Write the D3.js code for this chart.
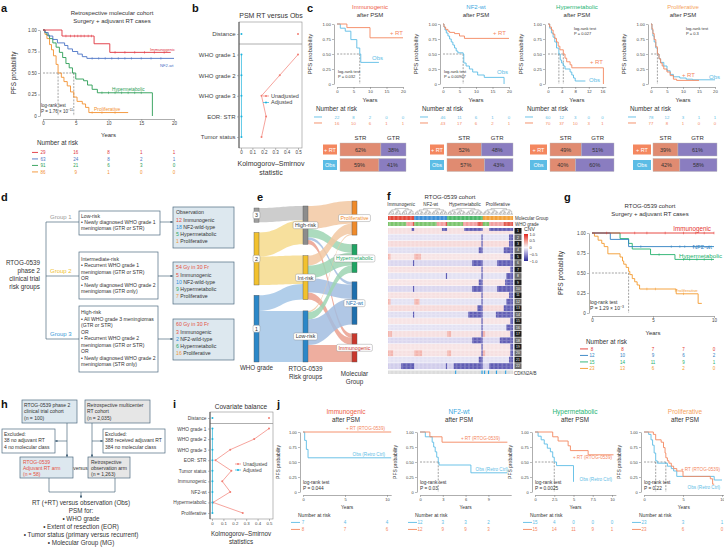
<!DOCTYPE html>
<html>
<head>
<meta charset="utf-8">
<script src="https://cdn.jsdelivr.net/npm/d3@7/dist/d3.min.js"></script>
<style>
  body { margin: 0; background: #fff; }
  svg { font-family: "Liberation Sans", Arial, sans-serif; background: #fff; }
</style>
</head>
<body>
<svg id="fig" width="724" height="554"></svg>
<script>
// ---------------- data ----------------
// a: retrospective molecular cohort (surgery + adjuvant RT)
const aYears = [0, 5, 10, 15, 20];
const aImm = [[0, 1], [2.9, 0.93], [7.8, 0.84], [10.2, 0.74], [19.5, 0.74]];
const aNF2 = [[0, 1], [0.3, 0.97], [0.8, 0.93], [1.5, 0.89], [2.2, 0.85], [3.3, 0.82], [3.8, 0.78], [4.5, 0.75], [5.3, 0.72], [6, 0.69], [6.7, 0.67], [20, 0.67]];
const aHyp = [[0, 1], [0.3, 0.97], [0.6, 0.94], [1, 0.9], [1.5, 0.85], [2, 0.8], [2.5, 0.74], [3, 0.68], [3.5, 0.61], [4, 0.56], [4.5, 0.5], [5, 0.43], [6.2, 0.41], [6.8, 0.36], [7.5, 0.31], [8.3, 0.27], [16.7, 0.27], [16.7, 0]];
const aPro = [[0, 1], [0.3, 0.95], [0.6, 0.9], [1, 0.83], [1.3, 0.77], [1.6, 0.7], [2, 0.6], [2.3, 0.5], [2.8, 0.45], [3.2, 0.4], [3.7, 0.35], [4.2, 0.28], [4.7, 0.22], [5.2, 0.17], [6, 0.14], [6.5, 0.1], [7, 0.04], [13, 0.04]];
const aImmCens = [3.5, 4.2, 4.8, 5.3, 5.8, 6.3, 6.9, 7.4, 11, 12.5, 14, 15.5, 17, 18.5];
const aNF2Cens = [7.5, 8.5, 9.5, 10.5, 11.5, 12.5, 13.5, 15, 16.5, 18];
const aHypCens = [9, 10, 11, 12, 13, 14, 15];
const aProCens = [7.5, 9, 11];
const aMed = [2.3, 4.7];
const aRiskImm = [29, 16, 8, 1, 1];
const aRiskNF2 = [63, 24, 8, 2, 1];
const aRiskHyp = [91, 21, 6, 3, 0];
const aRiskPro = [86, 9, 1, 0, 0];

// b: covariate balance PSM RT versus Obs
const bCov = ['Distance', 'WHO grade 1', 'WHO grade 2', 'WHO grade 3', 'EOR: STR', 'Tumor status'];
const bUnadj = [0.5, 0.5, 0.34, 0.18, 0.22, 0.18];
const bAdj = [0.004, 0.004, 0.004, 0.004, 0.004, 0.004];

// c: KM after PSM per molecular group
const cGroups = ['Immunogenic', 'NF2-wt', 'Hypermetabolic', 'Proliferative'];
const cTicks = [[0, 5, 10, 15, 20], [0, 5, 10, 15, 20], [0, 4, 8, 12, 16], [0, 5, 10, 15, 20]];
const cMax = [20, 20, 17, 20];
const cRT = [
  [[0, 1], [3, 0.94], [10, 0.77], [20, 0.77]],
  [[0, 1], [0.3, 0.95], [0.8, 0.91], [1.5, 0.88], [2, 0.86], [3.5, 0.84], [5, 0.8], [6.5, 0.76], [20, 0.76]],
  [[0, 1], [0.5, 0.95], [1, 0.9], [1.5, 0.83], [2, 0.76], [2.5, 0.7], [3, 0.63], [3.5, 0.57], [4.5, 0.5], [5, 0.43], [5.5, 0.37], [6.5, 0.32], [7, 0.27], [16.3, 0.27], [16.3, 0]],
  [[0, 1], [0.3, 0.92], [0.6, 0.84], [1, 0.74], [1.5, 0.62], [2, 0.5], [2.5, 0.42], [3, 0.35], [3.5, 0.3], [4, 0.25], [5, 0.2], [6, 0.14], [7, 0.08], [8, 0.06], [15, 0.06]]
];
const cObs = [
  [[0, 1], [1, 0.93], [2.5, 0.88], [4.2, 0.74], [6, 0.6], [6.9, 0.5], [7.2, 0.36], [12.7, 0.36]],
  [[0, 1], [0.3, 0.95], [0.6, 0.9], [1, 0.85], [1.5, 0.8], [2, 0.75], [2.5, 0.7], [3, 0.65], [3.5, 0.6], [4, 0.55], [4.5, 0.52], [6.1, 0.5], [6.3, 0.35], [7, 0.3], [8, 0.25], [9, 0.2], [10.5, 0.15], [12.5, 0.11], [18.5, 0.11], [18.5, 0]],
  [[0, 1], [0.5, 0.93], [1, 0.85], [1.5, 0.78], [2, 0.7], [2.5, 0.6], [3.2, 0.5], [3.6, 0.4], [4, 0.35], [4.5, 0.3], [5, 0.25], [6.5, 0.2], [7, 0.15], [7.5, 0.1], [8, 0.05], [11, 0.05]],
  [[0, 1], [0.3, 0.9], [0.6, 0.8], [1, 0.7], [1.5, 0.6], [2, 0.5], [2.5, 0.42], [3, 0.36], [4, 0.3], [5, 0.22], [6, 0.16], [7, 0.12], [9, 0.1], [11, 0.08], [13, 0.07], [20, 0.07]]
];
const cMed = [[6.9], [6.1], [3.2, 4.5], [2]];
const cP = ['P = 0.032', 'P = 0.00907', 'P = 0.027', 'P = 0.3'];
const cRiskObs = [[22, 8, 2, 0, 0], [46, 11, 6, 1, 0], [60, 12, 3, 0, 0], [78, 12, 3, 1, 1]];
const cRiskRT = [[16, 10, 6, 1, 1], [43, 17, 6, 2, 1], [70, 37, 10, 3, 1], [77, 8, 1, 0, 0]];
const cStrRT = [62, 52, 49, 39];
const cStrObs = [59, 57, 40, 42];

// d: RTOG-0539 risk groups and molecular groups
const molNames = ['Immunogenic', 'NF2-wild-type', 'Hypermetabolic', 'Proliferative'];
const obsCounts = [12, 18, 5, 1];
const gy54Counts = [5, 10, 9, 7];
const gy60Counts = [3, 2, 6, 16];

// e: sankey
const whoGrades = ['3', '2', '1'];
const riskGroups = ['High-risk', 'Int-risk', 'Low-risk'];
const molGroups = ['Proliferative', 'Hypermetabolic', 'NF2-wt', 'Immunogenic'];
const whoToRisk = [['3', 'High-risk', 10], ['2', 'High-risk', 17], ['2', 'Int-risk', 20], ['1', 'Int-risk', 11], ['1', 'Low-risk', 36]];

// f: CNV heatmap (fraction of samples with loss / gain per chromosome)
const chromNames = d3.range(1, 23).map(String);
const hmN = [20, 25, 27, 23];
const hmBg = [0.12, -0.1, 0.15, -0.12, 0.1, -0.15, 0.12, -0.1, 0.1, -0.15, 0.12, -0.1, 0.15, -0.12, 0.1, -0.1, 0.12, -0.15, 0.1, 0.12, -0.1, -0.2];
const lossImm = [0.1, 0, 0, 0, 0, 0.05, 0, 0, 0, 0.05, 0, 0, 0, 0.05, 0, 0, 0, 0, 0, 0, 0, 0.5];
const lossNF2 = [0.15, 0, 0, 0, 0, 0, 0, 0.05, 0, 0, 0, 0, 0, 0, 0, 0, 0, 0, 0, 0, 0, 0.05];
const lossHyp = [0.5, 0.05, 0.05, 0.1, 0, 0.3, 0.05, 0.05, 0.1, 0.3, 0.05, 0.05, 0.15, 0.4, 0.05, 0.05, 0.05, 0.3, 0.05, 0.05, 0.1, 0.8];
const lossPro = [0.8, 0.15, 0.15, 0.3, 0.1, 0.5, 0.1, 0.2, 0.25, 0.5, 0.15, 0.2, 0.3, 0.55, 0.1, 0.2, 0.1, 0.45, 0.1, 0.1, 0.15, 0.8];
const gainImm = [0, 0, 0, 0, 0.1, 0, 0, 0, 0, 0, 0, 0.1, 0, 0, 0, 0, 0.15, 0, 0, 0.2, 0, 0];
const gainNF2 = [0, 0, 0, 0, 0.2, 0, 0, 0, 0, 0, 0, 0.15, 0, 0, 0, 0, 0, 0, 0, 0.25, 0, 0];
const gainHyp = [0, 0, 0, 0, 0, 0, 0, 0, 0, 0, 0, 0, 0, 0, 0, 0, 0.1, 0, 0, 0.1, 0, 0];
const gainPro = [0, 0, 0, 0, 0, 0, 0, 0, 0, 0, 0, 0, 0, 0, 0, 0, 0.1, 0, 0, 0.1, 0, 0];
const lossLevel = -0.75, gainLevel = 0.35;
const pArmOnly = ['1'];
const whoImm = [14, 5, 1], whoNF2 = [17, 7, 1], whoHyp = [12, 11, 4], whoPro = [5, 11, 7];
const cdknSamples = [51, 71, 73, 76, 82, 89];
const cnvTicks = [1, 0.5, 0, -0.5, -1];

// g: RTOG-0539 cohort
const gImm = [[0, 1], [10, 1]];
const gNF2 = [[0, 1], [1.5, 0.92], [3, 0.83], [10, 0.83]];
const gHyp = [[0, 1], [2.3, 0.93], [3, 0.87], [3.3, 0.8], [4.8, 0.73], [6.8, 0.67], [10, 0.67]];
const gPro = [[0, 1], [0.2, 0.96], [0.5, 0.91], [0.8, 0.87], [1, 0.83], [1.3, 0.74], [2.3, 0.7], [2.5, 0.65], [2.6, 0.61], [2.8, 0.57], [3, 0.52], [3.1, 0.48], [3.3, 0.43], [3.5, 0.39], [3.7, 0.35], [3.9, 0.3], [6.9, 0.24], [8.7, 0.12], [9, 0.12]];
const gImmCens = [1.2, 3.5, 4.5, 6, 7.5, 8.5, 9.2, 10];
const gNF2Cens = [4, 6.5, 7.2, 7.6, 8.3, 9, 9.6];
const gHypCens = [5.5, 7.5, 8, 8.6, 9.2, 9.8];
const gProCens = [4.5, 5.2, 7.5];
const gYears = [0, 2.5, 5, 7.5, 10];
const gRiskImm = [8, 8, 7, 7, 0];
const gRiskNF2 = [12, 10, 9, 6, 2];
const gRiskHyp = [15, 14, 11, 9, 1];
const gRiskPro = [23, 13, 6, 2, 0];

// i: covariate balance RTOG RT arm versus retrospective observation
const iCov = ['Distance', 'WHO grade 1', 'WHO grade 2', 'WHO grade 3', 'EOR: STR', 'Tumor status', 'Immunogenic', 'NF2-wt', 'Hypermetabolic', 'Proliferative'];
const iUnadj = [0.5, 0.5, 0.37, 0.16, 0.03, 0.17, 0.09, 0.16, 0.01, 0.27];
const iAdj = [0.004, 0.004, 0.004, 0.004, 0.004, 0.004, 0.004, 0.004, 0.004, 0.004];

// j: KM after PSM, RTOG-0539 RT versus retrospective controls
const jDom = [10.5, 12, 10.5, 10.2];
const jTicks = [[0, 5, 10], [0, 3, 6, 9], [0, 2.5, 5, 7.5, 10], [0, 5, 10]];
const jRT = [
  [[0, 1], [10.5, 1]],
  [[0, 1], [1.3, 0.92], [2.9, 0.83], [11.5, 0.83]],
  [[0, 1], [2.3, 0.92], [3, 0.85], [4.3, 0.77], [4.6, 0.69], [6.9, 0.62], [10.2, 0.62]],
  [[0, 1], [1.2, 0.96], [1.5, 0.87], [2.2, 0.83], [2.5, 0.74], [2.7, 0.65], [2.8, 0.57], [3, 0.52], [3.2, 0.48], [3.5, 0.43], [3.8, 0.39], [4.2, 0.35], [5, 0.26], [8.5, 0.22], [8.8, 0.13], [9, 0.13]]
];
const jObs = [
  [[0, 1], [0.2, 0.86], [0.4, 0.71], [0.6, 0.57], [10.5, 0.57]],
  [[0, 1], [0.7, 0.92], [1.6, 0.83], [1.8, 0.75], [2, 0.67], [2.2, 0.58], [2.4, 0.5], [2.5, 0.45], [6.7, 0.32], [11.5, 0.32]],
  [[0, 1], [0.4, 0.93], [0.8, 0.87], [1.2, 0.8], [1.6, 0.73], [2, 0.67], [2.3, 0.58], [2.5, 0.5], [2.8, 0.44], [5, 0.17]],
  [[0, 1], [0.6, 0.96], [0.9, 0.87], [1.1, 0.78], [1.3, 0.65], [1.5, 0.52], [1.7, 0.48], [3, 0.43], [3.5, 0.39], [3.8, 0.35], [4.2, 0.26], [9, 0.2], [10, 0.2]]
];
const jMed = [[], [2.4], [2.5], [1.5, 2.8]];
const jP = ['P = 0.044', 'P = 0.03', 'P = 0.0025', 'P = 0.22'];
const jRiskObs = [[7, 4, 4], [12, 3, 3, 2], [15, 4, 0, 0, 0], [23, 3, 1]];
const jRiskRT = [[8, 7, 6], [12, 9, 9, 3], [15, 14, 11, 9, 1], [23, 6, 0]];

// ---------------- styles ----------------
const colA = ['#e0323c', '#4a73c5', '#2a9d55', '#f39130'];
const colG = ['#e53530', '#2f80c2', '#22b06c', '#f49a2e'];
const cTitleCol = ['#ee6046', '#39a7de', '#27b573', '#f5a35c'];
const molCol = ['#e4503f', '#2f8fd8', '#2aa766', '#f09a3a'];
const RT = '#f4875f', OBS = '#5cbce5';
const UNADJ = '#f27d72', ADJ = '#1db3dc';
const STRC = '#e08b71', GTRC = '#8a7dc0';
const FLOW = '#4e6b80';

const svg = d3.select('#fig');
svg.append('defs').append('marker').attr('id', 'arr').attr('viewBox', '0 0 6 6').attr('refX', 5.5).attr('refY', 3)
  .attr('markerWidth', 4).attr('markerHeight', 4).attr('orient', 'auto')
  .append('path').attr('d', 'M0,0L6,3L0,6Z').attr('fill', FLOW);

function txt(g, x, y, s, size, fill, anchor, weight) {
  return g.append('text').attr('x', x).attr('y', y).attr('font-size', size || 5).attr('fill', fill || '#333')
    .attr('text-anchor', anchor || 'start').attr('font-weight', weight || null).text(s);
}
function letter(s, x, y) { txt(svg, x, y, s, 11, '#111', 'start', 'bold'); }
function axisStyle(sel, size) {
  sel.attr('font-family', null);
  sel.selectAll('text').attr('font-size', size || 4.5).attr('fill', '#444');
  sel.selectAll('line').attr('stroke', '#777').attr('stroke-width', 0.5);
  sel.select('.domain').attr('stroke', '#777').attr('stroke-width', 0.6);
}
function dashed(g, x1, y1, x2, y2) {
  g.append('line').attr('x1', x1).attr('y1', y1).attr('x2', x2).attr('y2', y2)
    .attr('stroke', '#555').attr('stroke-width', 0.55).attr('stroke-dasharray', '2,1.3');
}
function survAt(d, t) { let s = 1; d.forEach(p => { if (p[0] <= t) s = p[1]; }); return s; }
function pText(g, x, y, size, base, sup) {
  const t = g.append('text').attr('x', x).attr('y', y).attr('font-size', size).attr('fill', '#333').text(base);
  if (sup) t.append('tspan').attr('dy', -size * 0.4).attr('font-size', size * 0.7).text(sup);
  return t;
}

function km(o) {
  const g = svg.append('g');
  const x = d3.scaleLinear().domain(o.dom).range(o.xr);
  const y = d3.scaleLinear().domain([0, 1]).range(o.yr);
  const ax = g.append('g').attr('transform', 'translate(0,' + (o.yr[0] + 3) + ')')
    .call(d3.axisBottom(x).tickValues(o.ticks).tickSize(2).tickSizeOuter(0).tickPadding(1.2).tickFormat(d => String(d)));
  axisStyle(ax, o.fs);
  const ay = g.append('g').attr('transform', 'translate(' + (o.xr[0] - 3) + ',0)')
    .call(d3.axisLeft(y).tickValues([0, 0.25, 0.5, 0.75, 1]).tickSize(2).tickSizeOuter(0).tickPadding(1.2)
      .tickFormat(d => d === 0 ? '0' : d3.format('.2f')(d)));
  axisStyle(ay, o.fs);
  txt(g, 0, 0, 'PFS probability', o.ylsize, '#333', 'middle')
    .attr('transform', 'translate(' + o.ylx + ',' + (o.yr[0] + o.yr[1]) / 2 + ') rotate(-90)');
  txt(g, (o.xr[0] + o.xr[1]) / 2, o.yearsY, 'Years', o.ysize, '#333', 'middle');
  if (o.med.length) {
    dashed(g, x(0), y(0.5), x(d3.max(o.med)), y(0.5));
    o.med.forEach(t => dashed(g, x(t), y(0.5), x(t), y(0)));
  }
  const step = d3.line().curve(d3.curveStepAfter).x(d => x(d[0])).y(d => y(d[1]));
  o.curves.forEach(c => {
    g.append('path').datum(c.d).attr('d', step).attr('fill', 'none').attr('stroke', c.color).attr('stroke-width', o.lw || 0.9);
    (c.cens || []).forEach(t => {
      const s = survAt(c.d, t);
      g.append('line').attr('x1', x(t)).attr('x2', x(t)).attr('y1', y(s) - 1.3).attr('y2', y(s) + 1.3)
        .attr('stroke', c.color).attr('stroke-width', 0.5);
    });
  });
  return { g: g, x: x, y: y };
}

function riskTable(g, x, years, rows, ys, dash, size) {
  rows.forEach((r, i) => {
    g.append('line').attr('x1', dash[0]).attr('x2', dash[1]).attr('y1', ys[i] - size * 0.35).attr('y2', ys[i] - size * 0.35)
      .attr('stroke', r.color).attr('stroke-width', 0.9);
    years.forEach((t, j) => txt(g, x(t), ys[i], String(r.vals[j]), size, r.color, 'middle'));
  });
}

function balance(o) {
  const g = svg.append('g');
  const x = d3.scaleLinear().domain([0, 0.5]).range(o.xr);
  const y = d3.scalePoint().domain(o.cov).range(o.yr);
  g.append('rect').attr('x', o.box[0]).attr('y', o.box[1]).attr('width', o.box[2] - o.box[0]).attr('height', o.box[3] - o.box[1])
    .attr('fill', 'none').attr('stroke', '#777').attr('stroke-width', 0.5);
  g.append('line').attr('x1', o.box[0]).attr('x2', o.box[2]).attr('y1', o.sep).attr('y2', o.sep).attr('stroke', '#999').attr('stroke-width', 0.8);
  g.append('line').attr('x1', o.box[0]).attr('x2', o.box[0]).attr('y1', o.box[1]).attr('y2', o.box[3]).attr('stroke', '#333').attr('stroke-width', 0.8);
  const ax = g.append('g').attr('transform', 'translate(0,' + o.box[3] + ')')
    .call(d3.axisBottom(x).tickValues([0, 0.1, 0.2, 0.3, 0.4, 0.5]).tickSize(2).tickSizeOuter(0).tickPadding(1.2)
      .tickFormat(d => d === 0 ? '0' : d3.format('.1f')(d)));
  axisStyle(ax, o.tfs);
  ax.select('.domain').remove();
  const ay = g.append('g').attr('transform', 'translate(' + o.box[0] + ',0)').call(d3.axisLeft(y).tickSize(2).tickPadding(1.5));
  axisStyle(ay, o.lfs);
  ay.select('.domain').remove();
  const ln = d3.line().x(d => x(d.v)).y(d => y(d.c));
  const series = [[o.unadj, UNADJ], [o.adj, ADJ]];
  series.forEach(s => {
    const p = o.cov.map((c, i) => ({ c: c, v: s[0][i] }));
    g.append('path').datum(p.slice(1)).attr('d', ln).attr('fill', 'none').attr('stroke', s[1]).attr('stroke-width', 0.7);
    g.selectAll(null).data(p).join('circle').attr('cx', d => x(d.v)).attr('cy', d => y(d.c)).attr('r', 1).attr('fill', s[1]);
  });
  const legs = [['Unadjusted', UNADJ], ['Adjusted', ADJ]];
  legs.forEach((l, i) => {
    const ly = o.leg[1] + i * o.leg[2];
    g.append('line').attr('x1', o.leg[0] - 3).attr('x2', o.leg[0] + 3).attr('y1', ly - 1.5).attr('y2', ly - 1.5).attr('stroke', l[1]).attr('stroke-width', 0.7);
    g.append('circle').attr('cx', o.leg[0]).attr('cy', ly - 1.5).attr('r', 1).attr('fill', l[1]);
    txt(g, o.leg[0] + 5, ly, l[0], o.legfs, '#444');
  });
  return g;
}

function box(g, x, y, w, h, fill) {
  g.append('rect').attr('x', x).attr('y', y).attr('width', w).attr('height', h)
    .attr('fill', fill || '#fff').attr('stroke', FLOW).attr('stroke-width', 0.7);
}
function seg(g, x1, y1, x2, y2, arrow) {
  const l = g.append('line').attr('x1', x1).attr('y1', y1).attr('x2', x2).attr('y2', y2).attr('stroke', FLOW).attr('stroke-width', 0.7);
  if (arrow) l.attr('marker-end', 'url(#arr)');
}
function textLines(g, x, y, arr, dy, size, fill, anchor) {
  arr.forEach((s, i) => txt(g, x, y + i * dy, s, size, fill, anchor));
}

// ---------------- a ----------------
letter('a', 1, 12);
const kA = km({ dom: [0, 20], xr: [43, 174], yr: [116, 30], ticks: aYears, ylx: 16, ylsize: 6.3, yearsY: 137, ysize: 6, fs: 4.5, med: aMed,
  curves: [{ d: aPro, color: colA[3], cens: aProCens }, { d: aHyp, color: colA[2], cens: aHypCens },
    { d: aNF2, color: colA[1], cens: aNF2Cens }, { d: aImm, color: colA[0], cens: aImmCens }] });
txt(kA.g, 112, 15, 'Retrospective molecular cohort', 6, '#333', 'middle');
txt(kA.g, 112, 23, 'Surgery + adjuvant RT cases', 6, '#333', 'middle');
txt(kA.g, 150, 50.5, 'Immunogenic', 4.2, colA[0]);
txt(kA.g, 160, 67, 'NF2-wt', 4.2, colA[1]);
txt(kA.g, 112, 90.5, 'Hypermetabolic', 4.7, colA[2]);
txt(kA.g, 94, 111, 'Proliferative', 5, colA[3]);
txt(kA.g, 41, 107, 'log-rank test', 4.5);
pText(kA.g, 41, 113, 4.5, 'P = 1.76 × 10', '−11');
txt(kA.g, 37, 144.5, 'Number at risk', 6.3);
riskTable(kA.g, kA.x, aYears, [{ color: colA[0], vals: aRiskImm }, { color: colA[1], vals: aRiskNF2 },
  { color: colA[2], vals: aRiskHyp }, { color: colA[3], vals: aRiskPro }], [154, 160.5, 167, 173.5], [32, 38], 4.5);

// ---------------- b ----------------
letter('b', 192, 12);
const gB = balance({ cov: bCov, unadj: bUnadj, adj: bAdj, xr: [241, 298], yr: [34, 137], box: [239, 22, 302, 148], sep: 44,
  lfs: 6, tfs: 4.5, leg: [266, 97.5, 6.5], legfs: 5.5 });
txt(gB, 271, 18, 'PSM RT versus Obs', 7, '#333', 'middle');
txt(gB, 271, 166, 'Kolmogorov–Smirnov', 7, '#333', 'middle');
txt(gB, 271, 175, 'statistic', 7, '#333', 'middle');

// ---------------- c ----------------
letter('c', 307, 12);
const cX0 = [337, 443, 548, 651];
const cXEnd = [403, 509, 605.8, 715];
const cRTLab = [[403, 35], [506, 35], [603, 64], [695, 77]];
const cObsLab = [[383, 60], [508, 74], [600, 82], [720, 79]];
const cLR = [[338, 72.5], [444, 72.5], [574, 30], [686, 30]];
const cBarX = [[340, 406], [447, 513], [550, 614], [653, 717]];
const cLabX = [[323, 337], [430, 444], [530, 547], [633, 651]];
cGroups.forEach((name, i) => {
  const k = km({ dom: [0, cMax[i]], xr: [cX0[i], cXEnd[i]], yr: [84, 24], ticks: cTicks[i], ylx: cX0[i] - 25, ylsize: 6,
    yearsY: 101.5, ysize: 6, fs: 4.3, med: cMed[i], curves: [{ d: cObs[i], color: OBS }, { d: cRT[i], color: RT }] });
  const cx = (cX0[i] + cXEnd[i]) / 2;
  txt(k.g, cx, 9, name, 6, cTitleCol[i], 'middle');
  txt(k.g, cx, 17, 'after PSM', 6, '#333', 'middle');
  txt(k.g, cRTLab[i][0], cRTLab[i][1], '+ RT', 6, RT, 'end');
  txt(k.g, cObsLab[i][0], cObsLab[i][1], 'Obs', 6, OBS, 'end');
  txt(k.g, cLR[i][0], cLR[i][1], 'log-rank test', 4);
  txt(k.g, cLR[i][0], cLR[i][1] + 5, cP[i], 4);
  txt(k.g, cX0[i] - 21, 111, 'Number at risk', 6.3);
  riskTable(k.g, k.x, cTicks[i], [{ color: OBS, vals: cRiskObs[i] }, { color: RT, vals: cRiskRT[i] }], [118.5, 124.5], [cX0[i] - 23, cX0[i] - 15], 4.3);
  // STR / GTR bars
  const bx = d3.scaleLinear().domain([0, 100]).range(cBarX[i]);
  const rows = [{ lab: '+ RT', fill: RT, v: cStrRT[i], y: 143 }, { lab: 'Obs', fill: OBS, v: cStrObs[i], y: 158.5 }];
  txt(k.g, (bx(0) + bx(rows[0].v)) / 2, 140, 'STR', 6, '#333', 'middle');
  txt(k.g, (bx(rows[0].v) + bx(100)) / 2, 140, 'GTR', 6, '#333', 'middle');
  rows.forEach(r => {
    k.g.append('rect').attr('x', cLabX[i][0]).attr('y', r.y + 1.5).attr('width', cLabX[i][1] - cLabX[i][0]).attr('height', 10).attr('fill', r.fill);
    txt(k.g, (cLabX[i][0] + cLabX[i][1]) / 2, r.y + 8.5, r.lab, 5.5, '#fff', 'middle');
    k.g.append('rect').attr('x', bx(0)).attr('y', r.y).attr('width', bx(r.v) - bx(0)).attr('height', 13).attr('fill', STRC).attr('stroke', '#bbb').attr('stroke-width', 0.4);
    k.g.append('rect').attr('x', bx(r.v)).attr('y', r.y).attr('width', bx(100) - bx(r.v)).attr('height', 13).attr('fill', GTRC).attr('stroke', '#bbb').attr('stroke-width', 0.4);
    txt(k.g, (bx(0) + bx(r.v)) / 2, r.y + 8.7, r.v + '%', 5.5, '#333', 'middle');
    txt(k.g, (bx(r.v) + bx(100)) / 2, r.y + 8.7, (100 - r.v) + '%', 5.5, '#333', 'middle');
  });
});

// ---------------- d ----------------
letter('d', 1, 201);
const gD = svg.append('g');
textLines(gD, 40, 264.5, ['RTOG-0539', 'phase 2', 'clinical trial', 'risk groups'], 8, 6.3, '#333', 'end');
seg(gD, 46, 222, 46, 339);
const grpY = [222, 276, 339];
const grpCol = ['#9a9a9a', '#efbf2c', '#3a9ad9'];
grpY.forEach((yy, i) => {
  seg(gD, 46, yy, 79, yy);
  txt(gD, 50, yy - 3.5, 'Group ' + (i + 1), 6, grpCol[i]);
});
box(gD, 79, 211, 81, 24);
textLines(gD, 81, 217.5, ['Low-risk', '• Newly diagnosed WHO grade 1', '  meningiomas (GTR or STR)'], 6, 5.1);
box(gD, 79, 252, 79, 47);
textLines(gD, 81, 261, ['Intermediate-risk', '• Recurrent WHO grade 1', '  meningiomas (GTR or STR)', '  OR', '• Newly diagnosed  WHO grade 2', '  meningiomas (GTR only)'], 6.4, 5.1);
box(gD, 79, 306, 79, 66);
textLines(gD, 81, 314, ['High-risk', '• All WHO grade 3 meningiomas', '  (GTR or STR)', '  OR', '• Recurrent WHO grade 2', '  meningiomas (GTR or STR)', '  OR', '• Newly diagnosed WHO grade 2', '  meningiomas (STR only)'], 6.5, 5.1);
seg(gD, 160, 222, 173, 222, true);
seg(gD, 158, 276, 173, 276, true);
seg(gD, 158, 339, 173, 339, true);
const rBoxes = [[207, 41, 'Observation', '#333', obsCounts], [262, 42, '54 Gy in 30 Fr', molCol[0], gy54Counts], [319, 41, '60 Gy in 30 Fr', molCol[0], gy60Counts]];
rBoxes.forEach(b => {
  box(gD, 173, b[0], 61, b[1], '#dde8ef');
  txt(gD, 176, b[0] + 7, b[2], 5.2, b[3]);
  b[4].forEach((n, i) => {
    const t = gD.append('text').attr('x', 176).attr('y', b[0] + 14.5 + i * 7).attr('font-size', 5.2);
    t.append('tspan').attr('fill', molCol[i]).text(n + '  ');
    t.append('tspan').attr('fill', '#333').text(molNames[i]);
  });
});

// ---------------- e (sankey) ----------------
letter('e', 257, 201);
const gE = svg.append('g');
const skK = 1.42, skW = 5;
const molIdx = { 'Immunogenic': 0, 'NF2-wt': 1, 'Hypermetabolic': 2, 'Proliferative': 3 };
const riskCounts = { 'High-risk': gy60Counts, 'Int-risk': gy54Counts, 'Low-risk': obsCounts };
const riskToMol = [];
riskGroups.forEach(r => molGroups.forEach(m => riskToMol.push([r, m, riskCounts[r][molIdx[m]]])));
function stackCol(names, links, side, x, top, bottom) {
  const vals = names.map(n => d3.sum(links.filter(l => l[side] === n), l => l[2]));
  const gap = (bottom - top - d3.sum(vals) * skK) / (names.length - 1);
  let yy = top;
  const nodes = {};
  names.forEach((n, i) => { nodes[n] = { name: n, x: x, y0: yy, y1: yy + vals[i] * skK, so: 0, to: 0 }; yy = nodes[n].y1 + gap; });
  return nodes;
}
const nWho = stackCol(whoGrades, whoToRisk, 0, 254, 208, 362);
const nRisk = stackCol(riskGroups, whoToRisk, 1, 303, 206, 362);
const nMol = stackCol(molGroups, riskToMol, 1, 352, 201, 362);
const whoFill = { '3': '#9e9e9e', '2': '#f2c12e', '1': '#2b87c8' };
const whoLink = { '3': '#c4c4c4', '2': '#f6da8c', '1': '#a3c6e6' };
const riskFill = { 'High-risk': '#8c8c8c', 'Int-risk': '#f2c12e', 'Low-risk': '#2b87c8' };
const molFill = { 'Proliferative': '#ef8a2a', 'Hypermetabolic': '#1fa463', 'NF2-wt': '#1e6fae', 'Immunogenic': '#c9372c' };
const molLink = { 'Proliferative': '#f2c8a2', 'Hypermetabolic': '#9dd5b3', 'NF2-wt': '#a2bde0', 'Immunogenic': '#eba08e' };
function buildLinks(list, S, T, sOrder, tOrder, colFn) {
  const ls = list.map(l => ({ s: S[l[0]], t: T[l[1]], v: l[2], si: sOrder.indexOf(l[0]), ti: tOrder.indexOf(l[1]), col: colFn(l) }));
  ls.slice().sort((a, b) => a.ti - b.ti).forEach(l => { l.sy0 = l.s.y0 + l.s.so; l.s.so += l.v * skK; l.sy1 = l.s.y0 + l.s.so; });
  ls.slice().sort((a, b) => a.si - b.si).forEach(l => { l.ty0 = l.t.y0 + l.t.to; l.t.to += l.v * skK; l.ty1 = l.t.y0 + l.t.to; });
  return ls;
}
function band(l) {
  const xs = l.s.x + skW, xt = l.t.x, xm = (xs + xt) / 2;
  return 'M' + xs + ',' + l.sy0 + 'C' + xm + ',' + l.sy0 + ' ' + xm + ',' + l.ty0 + ' ' + xt + ',' + l.ty0 +
    'L' + xt + ',' + l.ty1 + 'C' + xm + ',' + l.ty1 + ' ' + xm + ',' + l.sy1 + ' ' + xs + ',' + l.sy1 + 'Z';
}
const links1 = buildLinks(whoToRisk, nWho, nRisk, whoGrades, riskGroups, l => whoLink[l[0]]);
const links2 = buildLinks(riskToMol, nRisk, nMol, riskGroups, molGroups, l => molLink[l[1]]);
gE.selectAll('path.lk').data(links1.concat(links2)).join('path').attr('d', band).attr('fill', d => d.col).attr('opacity', 0.85);
function drawNodes(nodes, fill, labFill) {
  Object.values(nodes).forEach(n => {
    gE.append('rect').attr('x', n.x).attr('y', n.y0).attr('width', skW).attr('height', n.y1 - n.y0)
      .attr('fill', fill[n.name]).attr('stroke', '#555').attr('stroke-width', 0.4);
  });
  Object.values(nodes).forEach(n => {
    const cx = n.x + skW / 2, cy = (n.y0 + n.y1) / 2;
    const lb = gE.append('g');
    const r = lb.append('rect').attr('fill', '#fff').attr('stroke', '#888').attr('stroke-width', 0.4).attr('rx', 1.5);
    const t = txt(lb, cx, cy + 1.9, n.name, 5.3, labFill ? labFill[n.name] : '#333', 'middle');
    const w = t.node().getComputedTextLength() + 4;
    r.attr('x', cx - w / 2).attr('y', cy - 3.5).attr('width', w).attr('height', 7);
  });
}
drawNodes(nWho, whoFill, null);
drawNodes(nRisk, riskFill, null);
drawNodes(nMol, molFill, molFill);
txt(gE, 256.5, 370, 'WHO grade', 6.3, '#333', 'middle');
txt(gE, 305.5, 371, 'RTOG-0539', 6.3, '#333', 'middle');
txt(gE, 305.5, 379, 'Risk groups', 6.3, '#333', 'middle');
txt(gE, 354.5, 376, 'Molecular', 6.3, '#333', 'middle');
txt(gE, 354.5, 384, 'Group', 6.3, '#333', 'middle');

// ---------------- f (CNV heatmap) ----------------
letter('f', 387, 200);
const gF = svg.append('g');
const hmTotal = d3.sum(hmN);
const hmCols = ['#e2483a', '#3d8fd6', '#4cb668', '#f2a23a'];
const hmLoss = [lossImm, lossNF2, lossHyp, lossPro];
const hmGain = [gainImm, gainNF2, gainHyp, gainPro];
const hmWho = [whoImm, whoNF2, whoHyp, whoPro];
const whoCol = ['#7cc46d', '#f2a0a0', '#e25a4f'];
const cnv = d3.scaleLinear().domain([-1, -0.5, 0, 0.5, 1]).range(['#2a2a96', '#9690d2', '#f8f6fb', '#f19a8e', '#e3241c']).clamp(true);
const hx = d3.scaleBand().domain(d3.range(hmTotal)).range([388, 513]);
const hy = d3.scaleBand().domain(chromNames).range([228, 369]).paddingInner(0.1);
const bw = hx.bandwidth();
const cells = [], annot = [];
let s0 = 0;
hmN.forEach((n, gi) => {
  const whoSeq = [];
  hmWho[gi].forEach((cnt, gr) => { for (let q = 0; q < cnt; q++) whoSeq.push(gr); });
  for (let i = 0; i < n; i++) {
    const s = s0 + i;
    annot.push({ s: s, g: gi, w: whoSeq[i] });
    chromNames.forEach((c, ci) => {
      const lost = i >= n - Math.round(hmLoss[gi][ci] * n);
      const gained = i < Math.round(hmGain[gi][ci] * n);
      [0, 1].forEach(arm => {
        let v = hmBg[ci];
        if (lost && !(arm === 1 && pArmOnly.includes(c))) v = lossLevel;
        else if (gained) v = gainLevel;
        cells.push({ s: s, c: c, arm: arm, v: v });
      });
    });
  }
  // dendrogram for the group
  const ids = d3.range(s0, s0 + n);
  const halves = a => a.length === 1 ? { id: a[0] } : { children: [halves(a.slice(0, Math.ceil(a.length / 2))), halves(a.slice(Math.ceil(a.length / 2)))] };
  const root = d3.hierarchy(halves(ids));
  root.eachAfter(nd => {
    nd.px = nd.children ? d3.mean(nd.children, ch => ch.px) : hx(nd.data.id) + bw / 2;
    nd.py = 215 - nd.height * (6.5 / root.height);
  });
  root.each(nd => {
    if (!nd.children) return;
    gF.append('line').attr('x1', nd.children[0].px).attr('x2', nd.children[1].px).attr('y1', nd.py).attr('y2', nd.py).attr('stroke', '#555').attr('stroke-width', 0.3);
    nd.children.forEach(ch => gF.append('line').attr('x1', ch.px).attr('x2', ch.px).attr('y1', nd.py).attr('y2', ch.py).attr('stroke', '#555').attr('stroke-width', 0.3));
  });
  txt(gF, hx(s0) + n * bw / 2, 205.5, cGroups[gi], 4.6, '#333', 'middle');
  s0 += n;
});
gF.selectAll('rect.cell').data(cells).join('rect')
  .attr('x', d => hx(d.s)).attr('y', d => hy(d.c) + d.arm * hy.bandwidth() / 2)
  .attr('width', bw + 0.15).attr('height', hy.bandwidth() / 2 + 0.1).attr('fill', d => cnv(d.v));
gF.selectAll('rect.mg').data(annot).join('rect').attr('x', d => hx(d.s)).attr('y', 216).attr('width', bw + 0.1).attr('height', 4).attr('fill', d => hmCols[d.g]);
gF.selectAll('rect.wg').data(annot).join('rect').attr('x', d => hx(d.s)).attr('y', 222).attr('width', bw + 0.1).attr('height', 4).attr('fill', d => whoCol[d.w]);
gF.selectAll('rect.cd').data(annot).join('rect').attr('x', d => hx(d.s)).attr('y', 370.5).attr('width', bw + 0.1).attr('height', 3.5)
  .attr('fill', d => cdknSamples.includes(d.s) ? '#2a9fe0' : '#dcdcdc');
txt(gF, 450, 199, 'RTOG-0539 cohort', 6, '#333', 'middle');
txt(gF, 515, 220, 'Molecular Group', 4.5);
txt(gF, 515, 226, 'WHO grade', 4.5);
txt(gF, 514, 374.5, 'CDKN2A/B', 4.5);
chromNames.forEach((c, i) => {
  gF.append('rect').attr('x', 514.5).attr('y', hy(c)).attr('width', 7).attr('height', hy.bandwidth()).attr('fill', i % 2 ? '#6b6b6b' : '#1c1c1c');
  txt(gF, 518, hy(c) + hy.bandwidth() / 2 + 1.2, c, 3.4, '#fff', 'middle');
});
const grad = svg.select('defs').append('linearGradient').attr('id', 'cnvg').attr('x1', 0).attr('x2', 0).attr('y1', 0).attr('y2', 1);
cnvTicks.forEach((v, i) => grad.append('stop').attr('offset', i / 4).attr('stop-color', cnv(v)));
txt(gF, 524, 231, 'CNV', 5.2);
const ly = d3.scaleLinear().domain([1, -1]).range([234, 261]);
gF.append('rect').attr('x', 524).attr('y', ly(1)).attr('width', 4).attr('height', ly(-1) - ly(1)).attr('fill', 'url(#cnvg)');
cnvTicks.forEach(v => txt(gF, 529.5, ly(v) + 1.5, v === 0 ? '0' : (v < 0 ? '−' : '') + Math.abs(v).toFixed(1), 4));

// ---------------- g ----------------
letter('g', 564, 201);
const kG = km({ dom: [0, 10], xr: [592, 714], yr: [313, 233], ticks: [0, 5, 10], ylx: 563, ylsize: 6.5, yearsY: 335, ysize: 6, fs: 4.5, med: [3],
  curves: [{ d: gPro, color: colG[3], cens: gProCens }, { d: gHyp, color: colG[2], cens: gHypCens },
    { d: gNF2, color: colG[1], cens: gNF2Cens }, { d: gImm, color: colG[0], cens: gImmCens }] });
txt(kG.g, 650, 208, 'RTOG-0539 cohort', 6, '#333', 'middle');
txt(kG.g, 650, 216, 'Surgery + adjuvant RT cases', 6, '#333', 'middle');
txt(kG.g, 711, 231, 'Immunogenic', 6.3, colG[0], 'end');
txt(kG.g, 712, 249, 'NF2-wt', 6, colG[1], 'end');
txt(kG.g, 722, 257.5, 'Hypermetabolic', 6.2, colG[2], 'end');
txt(kG.g, 675, 291.5, 'Proliferative', 4.3, colG[3]);
txt(kG.g, 590, 303.5, 'log-rank test', 5);
pText(kG.g, 590, 310, 5, 'P = 1.29 × 10', '−3');
txt(kG.g, 586, 343.5, 'Number at risk', 6.3);
riskTable(kG.g, kG.x, gYears, [{ color: colG[0], vals: gRiskImm }, { color: colG[1], vals: gRiskNF2 },
  { color: colG[2], vals: gRiskHyp }, { color: colG[3], vals: gRiskPro }], [350.5, 357, 363.5, 370], [580, 588], 4.5);

// ---------------- h ----------------
letter('h', 1, 408);
const gH = svg.append('g');
box(gH, 22, 400, 55, 23, '#dde8ef');
textLines(gH, 24, 407, ['RTOG-0539  phase 2', 'clinical trial cohort', '(n = 100)'], 6.3, 5);
box(gH, 85, 400, 65, 23, '#e6e6e6');
textLines(gH, 87, 407, ['Retrospective multicenter', 'RT cohort', '(n = 2,035)'], 6.3, 5);
box(gH, 2, 429, 53, 24);
textLines(gH, 4, 435.5, ['Excluded:', '38 no adjuvant RT', '4 no molecular class'], 6.5, 5);
box(gH, 103, 429, 62, 24);
textLines(gH, 105, 435.5, ['Excluded:', '388 received adjuvant RT', '384 no molecular class'], 6.5, 5);
seg(gH, 67, 423, 67, 457, true);
seg(gH, 67, 441, 55, 441, true);
seg(gH, 92, 423, 92, 457, true);
seg(gH, 92, 441, 103, 441, true);
box(gH, 20, 457, 53, 21, '#dde8ef');
textLines(gH, 23, 463.5, ['RTOG-0539', 'Adjuvant RT arm', '(n = 58)'], 6.3, 5, '#e4503f');
txt(gH, 80.5, 470, 'versus', 5, '#333', 'middle');
box(gH, 88, 457, 42, 21, '#e6e6e6');
textLines(gH, 91, 463.5, ['Retrospective', 'observation arm', '(n = 1,263)'], 6.3, 5);
gH.append('path').attr('d', 'M49,478V492H115V478').attr('fill', 'none').attr('stroke', FLOW).attr('stroke-width', 0.7);
seg(gH, 81, 492, 81, 498, true);
textLines(gH, 81, 504.5, ['RT (+RT) versus observation (Obs)', 'PSM for:', '• WHO grade', '• Extent of resection (EOR)',
  '• Tumor status (primary versus recurrent)', '• Molecular Group (MG)'], 8, 6.3, '#333', 'middle');

// ---------------- i ----------------
letter('i', 173, 408);
const gI = balance({ cov: iCov, unadj: iUnadj, adj: iAdj, xr: [212, 269], yr: [418, 513], box: [210, 412, 273, 519], sep: 423.5,
  lfs: 4.8, tfs: 4.3, leg: [238, 465.5, 6], legfs: 4.8 });
txt(gI, 241, 409, 'Covariate balance', 6.5, '#333', 'middle');
txt(gI, 241, 536, 'Kolmogorov–Smirnov', 6.3, '#333', 'middle');
txt(gI, 241, 544, 'statistics', 6.3, '#333', 'middle');

// ---------------- j ----------------
letter('j', 277, 408);
const jX0 = [303, 420, 535, 644];
const jPx = [8.4, 7.6, 7.7, 7.8];
const jTitleX = [346, 459, 575, 685];
const jRTLab = [[385, 430], [500, 440], [612, 459], [720, 471]];
const jObsLab = [[385, 456], [508, 471], [612, 481], [720, 489]];
cGroups.forEach((name, i) => {
  const k = km({ dom: [0, jDom[i]], xr: [jX0[i], jX0[i] + jDom[i] * jPx[i]], yr: [492, 432], ticks: jTicks[i], ylx: jX0[i] - 23, ylsize: 5,
    yearsY: 509, ysize: 4.8, fs: 4, med: jMed[i], curves: [{ d: jObs[i], color: OBS }, { d: jRT[i], color: RT }] });
  txt(k.g, jTitleX[i], 414, name, 6.5, cTitleCol[i], 'middle');
  txt(k.g, jTitleX[i], 422, 'after PSM', 6.3, '#333', 'middle');
  txt(k.g, jRTLab[i][0], jRTLab[i][1], '+ RT (RTOG-0539)', 4.6, RT, 'end');
  txt(k.g, jObsLab[i][0], jObsLab[i][1], 'Obs (Retro Ctrl)', 4.6, OBS, 'end');
  txt(k.g, jX0[i], 484, 'log-rank test', 4.8);
  txt(k.g, jX0[i], 490, jP[i], 4.8);
  txt(k.g, jX0[i] - 5, 516.5, 'Number at risk', 5);
  riskTable(k.g, k.x, jTicks[i], [{ color: OBS, vals: jRiskObs[i] }, { color: RT, vals: jRiskRT[i] }], [524, 531], [jX0[i] - 12, jX0[i] - 3], 4.5);
});
</script>
</body>
</html>
